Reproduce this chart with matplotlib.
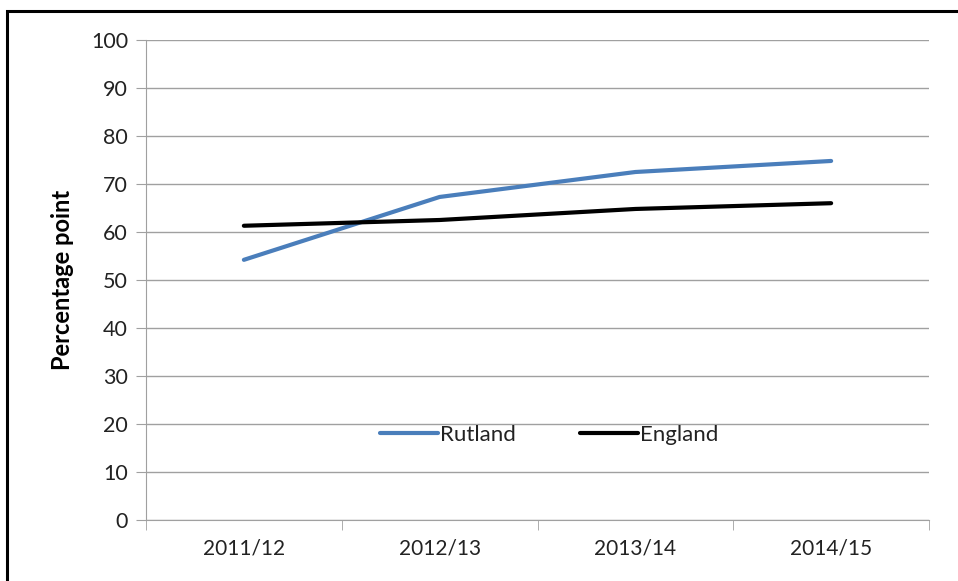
import matplotlib.pyplot as plt
from matplotlib.patches import Rectangle

years = ["2011/12", "2012/13", "2013/14", "2014/15"]
rutland = [54.2, 67.3, 72.5, 74.8]
england = [61.3, 62.5, 64.8, 66.0]
y_ticks = list(range(0, 101, 10))

plt.rcParams['font.family'] = ['Lato', 'DejaVu Sans']

fig = plt.figure(figsize=(9.58, 5.81), dpi=100)
ax = fig.add_axes([146 / 958, 1 - 520 / 581, (929 - 146) / 958, 480 / 581])

x = range(len(years))
ax.plot(x, rutland, color='#4A7EBB', lw=3, solid_capstyle='round', label='Rutland')
ax.plot(x, england, color='black', lw=3, solid_capstyle='round', label='England')

ax.set_xlim(-0.5, len(years) - 0.5)
ax.set_ylim(0, 100)
ax.set_yticks(y_ticks)
ax.set_xticks(x)
ax.set_xticklabels(years)
ax.set_xticks([i - 0.5 for i in range(len(years) + 1)], minor=True)
ax.tick_params(axis='x', which='major', length=0, pad=13, labelsize=15)
ax.tick_params(axis='x', which='minor', length=7, color='#A0A0A0', direction='out')
ax.tick_params(axis='y', length=7, color='#A0A0A0', labelsize=15.5, pad=6)
for lab in ax.get_xticklabels() + ax.get_yticklabels():
    lab.set_color('#222222')

ax.grid(axis='y', color='#A0A0A0', lw=1)
ax.set_axisbelow(True)
for side in ['top', 'right']:
    ax.spines[side].set_visible(False)
for side in ['left', 'bottom']:
    ax.spines[side].set_color('#A0A0A0')

ax.set_ylabel('Percentage point', fontsize=17, fontweight='bold', labelpad=12)

ax.legend(loc='center', bbox_to_anchor=(0.515, 0.177), ncol=2, frameon=False,
          fontsize=16, handlelength=2.6, handletextpad=0.1, columnspacing=2.9,
          labelcolor='#222222')

# outer frame, cropped on the right and bottom
fig.patches.append(Rectangle((6.5 / 958, -0.05), 1.1, 1 - 11 / 581 + 0.05,
                             transform=fig.transFigure, fill=False,
                             edgecolor='black', lw=2.2))

fig.savefig('out.png', dpi=100)
